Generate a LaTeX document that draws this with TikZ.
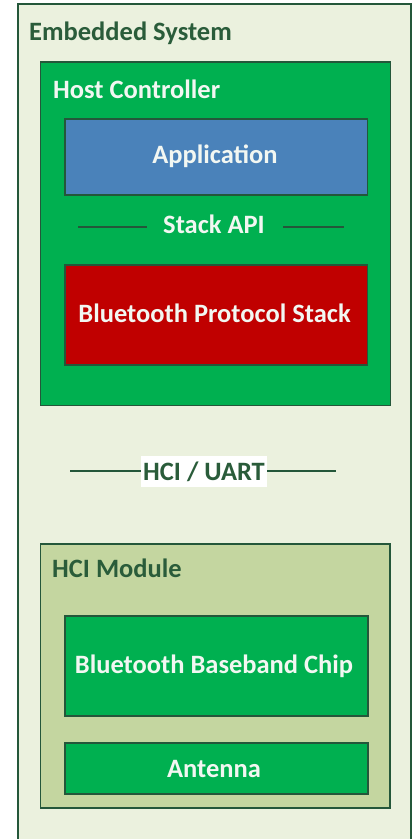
\documentclass[tikz,border=0pt]{standalone}
\usepackage{fontspec}
\setmainfont{Carlito}
\definecolor{outerfill}{HTML}{EBF1DE}
\definecolor{edge}{HTML}{24573A}
\definecolor{hostfill}{HTML}{00B050}
\definecolor{appfill}{HTML}{4A82BA}
\definecolor{redfill}{HTML}{C00000}
\definecolor{modfill}{HTML}{C4D6A0}
\definecolor{titletext}{HTML}{2A5C3A}
\definecolor{softwhite}{HTML}{F2F7F2}
\tikzset{
  panel/.style={draw=edge, line width=1.5pt},
  title/.style={font=\bfseries\fontsize{26.5}{30}\selectfont, text=titletext, anchor=base west, inner sep=0pt},
  lbl/.style={font=\bfseries\fontsize{26.5}{30}\selectfont, text=softwhite, anchor=base, inner sep=0pt},
  apiline/.style={draw=edge, line width=1.5pt}
}
\begin{document}
\begin{tikzpicture}[x=1pt,y=-1pt]
\useasboundingbox (0,0) rectangle (416,839);
% outer
\path[panel, fill=outerfill] (18,4) rectangle (411,860);
\node[title] (es) at (29,40) {Embedded System};
% host controller
\path[panel, fill=hostfill] (40.5,62) rectangle (390.5,405.5);
\node[title, text=softwhite] (hc) at (53,98) {Host Controller};
\path[panel, fill=appfill] (65,119) rectangle (367.5,195);
\node[lbl] (app) at (215,163) {Application};
\node[lbl] (api) at (214,233) {Stack API};
\coordinate (al) at (78,227);
\coordinate (alx) at (147,227);
\coordinate (arx) at (283,227);
\coordinate (ar) at (344,227);
\draw[apiline] (al) -- (alx);
\draw[apiline] (arx) -- (ar);
\path[panel, fill=redfill] (65,265) rectangle (367.5,365);
\node[lbl] (bps) at (214.5,322.5) {Bluetooth Protocol Stack};
% HCI / UART
\coordinate (hl) at (70,471);
\coordinate (hr) at (336,471);
\draw[apiline] (hl) -- (hr);
\node[fill=white, inner xsep=2pt, minimum height=31pt, font=\bfseries\fontsize{26.5}{30}\selectfont, text=titletext] (uart) at (204,471.5) {HCI / UART};
% HCI module
\path[panel, fill=modfill] (40.5,544) rectangle (390,808);
\node[title] (hm) at (52,577) {HCI Module};
\path[panel, fill=hostfill] (65,616) rectangle (368,716);
\node[lbl] (chip) at (214,673) {Bluetooth Baseband Chip};
\path[panel, fill=hostfill] (65,743) rectangle (368,794);
\node[lbl] (ant) at (214,777) {Antenna};
\end{tikzpicture}
\end{document}
